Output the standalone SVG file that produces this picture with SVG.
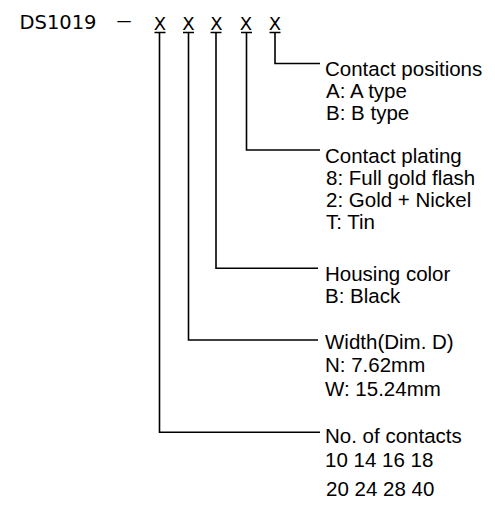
<svg xmlns="http://www.w3.org/2000/svg" width="495" height="509" viewBox="0 0 495 509">
<style>
.t{font-family:"Liberation Sans",Arial,sans-serif;font-size:20.5px;fill:#000}
.h{font-family:"DejaVu Sans",sans-serif;font-size:19.5px;fill:#000}
.x{font-family:"DejaVu Sans",sans-serif;font-size:18px;fill:#000;text-anchor:middle}
.c{fill:none;stroke:#000;stroke-width:1.6}
</style>
<rect width="495" height="509" fill="#fff"/>
<g id="code">
<text class="h" x="19.5" y="29">DS1019</text>
<text class="h" transform="translate(124 0) scale(1.7 1)" x="0" y="27" text-anchor="middle">–</text>
<text class="x" x="160" y="29.5">X</text>
<text class="x" x="188.5" y="29.5">X</text>
<text class="x" x="216.5" y="29.5">X</text>
<text class="x" x="246" y="29.5">X</text>
<text class="x" x="275" y="29.5">X</text>
</g>
<g id="connectors" class="c">
<path d="M154.5 32.5h11M159.5 32.5V432.3H320"/>
<path d="M183 32.5h11M188.5 32.5V340H318"/>
<path d="M210.5 32.5h11M216 32.5V268.3H318"/>
<path d="M241 32.5h11M246.5 32.5V150H320"/>
<path d="M269.5 32.5h11M275 32.5V63.5H320"/>
</g>
<g id="contact-positions">
<text class="t" x="325" y="75.5">Contact positions</text>
<text class="t" x="326" y="97.5">A: A type</text>
<text class="t" x="326" y="119.5">B: B type</text>
</g>
<g id="contact-plating">
<text class="t" x="325" y="163">Contact plating</text>
<text class="t" x="326" y="185">8: Full gold flash</text>
<text class="t" x="326" y="207">2: Gold + Nickel</text>
<text class="t" x="326" y="229">T: Tin</text>
</g>
<g id="housing-color">
<text class="t" x="325" y="281">Housing color</text>
<text class="t" x="325" y="303">B: Black</text>
</g>
<g id="width">
<text class="t" x="325" y="348.5">Width(Dim. D)</text>
<text class="t" x="325" y="372">N: 7.62mm</text>
<text class="t" x="325" y="396">W: 15.24mm</text>
</g>
<g id="contacts">
<text class="t" x="325" y="442.5">No. of contacts</text>
<text class="t" x="325" y="467">10 14 16 18</text>
<text class="t" x="326" y="496">20 24 28 40</text>
</g>
</svg>
